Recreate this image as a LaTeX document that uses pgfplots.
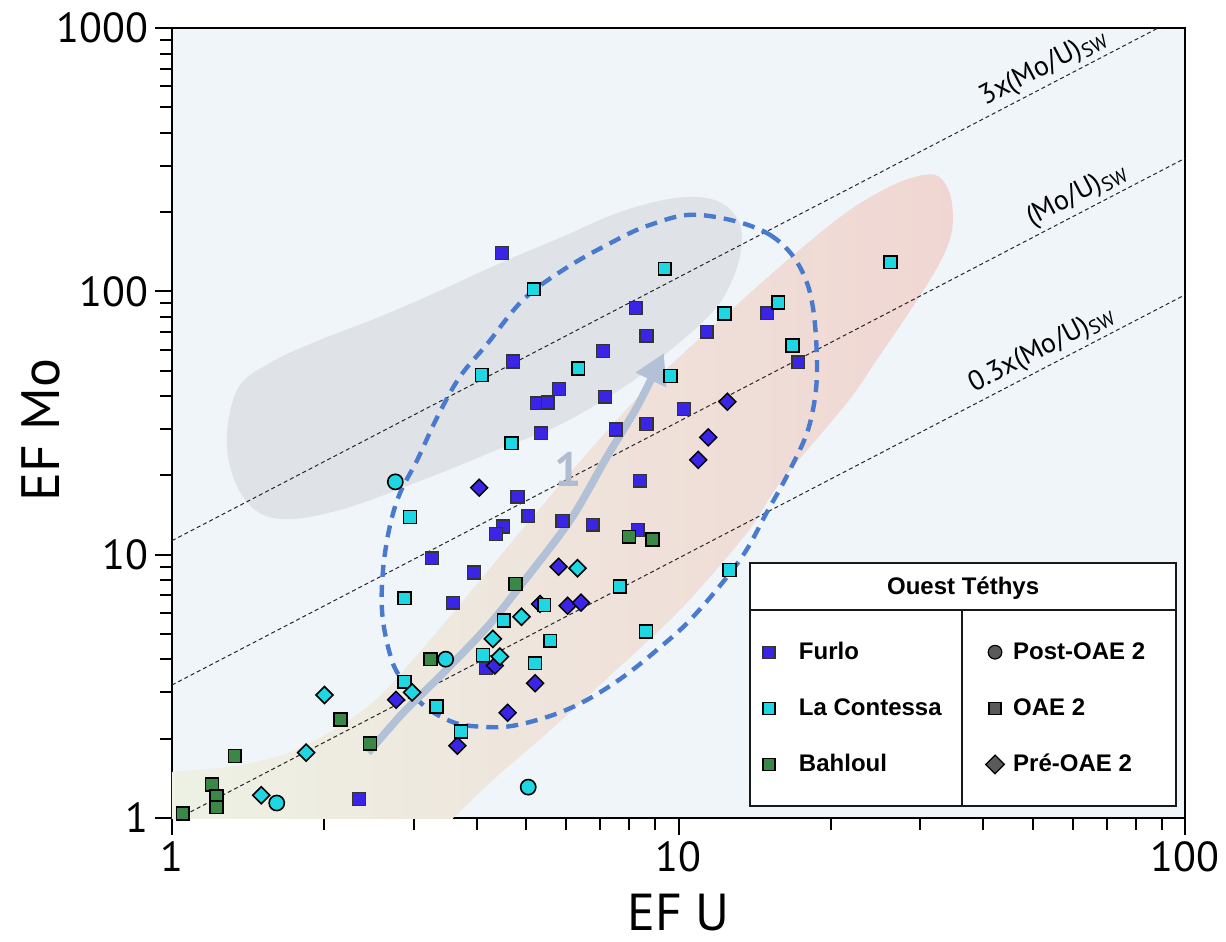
\documentclass[border=0pt]{standalone}
\usepackage{fontspec}
\setmainfont{PT Sans}
\newfontfamily\legfont{Liberation Sans}
\usepackage{pgfplots}
\pgfplotsset{compat=1.18}
\usetikzlibrary{arrows.meta}

\definecolor{bgcol}{RGB}{240,245,250}
\definecolor{graycol}{RGB}{223,227,232}
\definecolor{bandL}{RGB}{237,244,230}
\definecolor{bandM}{RGB}{240,234,224}
\definecolor{bandR}{RGB}{240,214,210}
\definecolor{ellc}{RGB}{74,122,206}
\definecolor{cfurlo}{RGB}{58,36,230}
\definecolor{clac}{RGB}{29,216,226}
\definecolor{cbah}{RGB}{58,136,70}
\definecolor{arrowc}{RGB}{178,193,214}
\definecolor{onec}{RGB}{176,188,207}
\definecolor{leggray}{RGB}{90,90,90}

\begin{document}
\begin{tikzpicture}
\useasboundingbox (-86pt,-62pt) rectangle (527pt,409pt);
\begin{axis}[
  at={(0,0)}, anchor=south west,
  width=506.5pt, height=395pt, scale only axis,
  xmode=log, ymode=log,
  xmin=1, xmax=100, ymin=1, ymax=1000,
  log ticks with fixed point,
  xtick={1,10,100}, ytick={1,10,100,1000},
  tick pos=left,
  tick align=outside,
  major tick length=8.5pt, minor tick length=6pt,
  every tick/.style={black, line width=1pt},
  axis line style={line width=1pt},
  axis background/.style={fill=bgcol},
  /pgf/number format/assume math mode=true,
  /pgf/number format/1000 sep={},
  ticklabel style={font=\fontsize{21}{24}\selectfont},
  every axis x label/.style={at={(rel axis cs:0.5,-0.1425)}, anchor=base, inner sep=0pt, font=\fontsize{26}{30}\selectfont},
  every axis y label/.style={at={(rel axis cs:-0.1115,0.491)}, rotate=90, anchor=base, inner sep=0pt, font=\fontsize{27}{30}\selectfont},
  xlabel={EF U}, ylabel={EF Mo},
  legend columns=2,
  legend cell align=left,
  legend image code/.code={\draw[#1] plot coordinates {(0pt,0pt)};},
  legend style={at={(rel axis cs:0.5834,0.2253)}, anchor=north west, draw=none, fill=none,
    inner sep=0pt, outer sep=0pt, row sep=16pt,
    font=\legfont\bfseries\fontsize{12}{14}\selectfont,
    nodes={inner sep=1pt},
    /tikz/every odd column/.append style={column sep=3.4pt},
    /tikz/every even column/.append style={column sep=21pt}},
]

% gradient band
\addplot[draw=none, left color=bandL, middle color=bandM, right color=bandR, smooth cycle, tension=0.55, forget plot] coordinates {
 (1,1.495) (1.362,1.589) (1.789,1.845) (2.46,2.69) (3.23,4.74) (4.06,8.01) (5.09,13.5) (6.69,25.0)
 (8.78,44.1) (12.08,77.9) (16.6,133.9) (21.8,203.8) (27.4,260.3) (32.1,276.7) (34.4,232.3) (34.7,171.1)
 (32.8,128.2) (29.0,87.3) (25.0,57.3) (21.5,37.7) (15.86,18.7) (13.65,12.09) (10.07,6.17) (7.42,3.55)
 (5.50,2.10) (4.30,1.394) (3.59,1.0) (3.4,0.92) (0.9,0.9) (0.9,1.45)};

% gray blob
\addplot[draw=none, fill=graycol, smooth cycle, tension=0.6, forget plot] coordinates {
 (4.38,25.0) (3.23,19.7) (2.15,14.8) (1.61,13.7) (1.381,16.6) (1.284,25.6) (1.344,42.2) (1.562,53.5)
 (1.960,65.4) (2.54,79.3) (3.34,99.5) (4.50,129.3) (5.83,159.5) (7.66,200) (9.84,226) (11.8,222)
 (13.11,186.7) (13.29,143.6) (12.64,105.8) (11.54,81.4) (9.49,58.3) (8.02,44.9) (5.92,31.6)};

% reference lines
\addplot[black!85, line width=0.5pt, dash pattern=on 2pt off 1.5pt, forget plot] coordinates {(1,11.3) (100,1130)};
\addplot[black!85, line width=0.5pt, dash pattern=on 2pt off 1.5pt, forget plot] coordinates {(1,3.2) (100,320)};
\addplot[black!85, line width=0.5pt, dash pattern=on 2pt off 1.5pt, forget plot] coordinates {(1,0.97) (100,97)};

\node[rotate=27.5, anchor=south, inner sep=2pt, font=\fontsize{14}{16}\selectfont] at (axis cs:54.6,617) {3x(Mo/U)\textsubscript{SW}};
\node[rotate=27.5, anchor=south, inner sep=2pt, font=\fontsize{14}{16}\selectfont] at (axis cs:63.5,203) {(Mo/U)\textsubscript{SW}};
\node[rotate=27.5, anchor=south, inner sep=2pt, font=\fontsize{14}{16}\selectfont] at (axis cs:54.1,52.5) {0.3x(Mo/U)\textsubscript{SW}};

% dashed ellipse
\addplot[ellc, line width=2.2pt, dash pattern=on 6pt off 4pt, smooth cycle, tension=0.6, forget plot] coordinates {
 (11.03,195) (15.16,163.8) (17.94,107.6) (18.77,53.5) (18.18,31.6) (16.6,21.0) (14.95,14.5) (13.22,9.55)
 (10.68,5.80) (9.07,4.35) (7.77,3.43) (6.60,2.81) (5.65,2.46) (4.71,2.24) (4.11,2.22) (3.59,2.31)
 (3.13,2.69) (2.82,3.43) (2.69,4.23) (2.60,6.00) (2.61,8.75) (2.69,12.74) (2.82,17.15) (3.05,22.9)
 (3.34,33.3) (3.70,47.3) (4.19,63.1) (4.93,92.7) (5.92,120.6) (7.22,150) (8.78,178.7)};

% arrow
\addplot[arrowc, line width=3.8pt, smooth, tension=0.5, -{Triangle[width=16pt,length=15pt]}, forget plot] coordinates {
 (2.44,1.77) (2.86,2.51) (3.43,3.55) (4.19,5.31) (4.80,7.34) (6.11,13.5) (7.22,23.5) (8.28,36.4) (9.36,58.3)};
\node[text=onec, font=\bfseries\fontsize{24}{26}\selectfont] at (axis cs:6.05,21.0) {1};

% Furlo OAE 2
\addplot[only marks, mark=square*, mark size=3.2pt, mark options={fill=cfurlo, draw=black!80, line width=0.7pt}, forget plot] coordinates {
 (4.48,139.6) (8.23,86.3) (14.97,82.5) (11.37,70.3) (8.65,67.9) (7.10,59.4) (4.71,54.1) (17.24,53.8)
 (5.81,42.5) (5.25,37.6) (5.52,37.8) (7.16,39.8) (10.25,35.8) (5.35,28.9) (7.52,29.9) (8.65,31.4)
 (8.40,19.1) (4.81,16.6) (5.05,14.0) (4.50,12.8) (4.36,11.98) (5.90,13.4) (6.77,13.0) (8.31,12.4)
 (3.26,9.69) (3.95,8.55) (3.59,6.57) (4.17,3.70) (2.34,1.18)};
% Furlo Pre-OAE 2
\addplot[only marks, mark=square*, mark size=3.0pt, mark options={rotate=45, fill=cfurlo, draw=black, line width=0.7pt}, forget plot] coordinates {
 (12.49,38.1) (11.45,27.9) (10.94,22.9) (4.04,17.97) (5.80,9.0) (5.33,6.5) (6.04,6.40) (6.42,6.57)
 (4.34,3.79) (5.21,3.25) (4.60,2.51) (2.77,2.81) (3.66,1.88)};
% La Contessa OAE 2
\addplot[only marks, mark=square*, mark size=3.2pt, mark options={fill=clac, draw=black, line width=0.8pt}, forget plot] coordinates {
 (9.40,121.7) (5.18,101.9) (12.32,82.5) (15.74,90.6) (16.78,62.2) (6.34,51.0) (9.65,47.7) (4.09,48.1)
 (4.68,26.5) (2.95,13.9) (2.88,6.83) (7.66,7.56) (12.6,8.75) (5.43,6.44) (4.52,5.62) (5.58,4.71)
 (8.63,5.10) (4.11,4.16) (5.21,3.87) (2.88,3.29) (3.33,2.65) (3.72,2.13) (26.2,129)};
% La Contessa Pre-OAE 2
\addplot[only marks, mark=square*, mark size=3.0pt, mark options={rotate=45, fill=clac, draw=black, line width=0.8pt}, forget plot] coordinates {
 (6.32,8.88) (4.90,5.81) (4.30,4.79) (4.44,4.10) (2.98,3.0) (2.00,2.93) (1.84,1.77) (1.50,1.22)};
% Bahloul OAE 2
\addplot[only marks, mark=square*, mark size=3.2pt, mark options={fill=cbah, draw=black, line width=0.8pt}, forget plot] coordinates {
 (7.99,11.7) (8.88,11.4) (4.77,7.74) (3.24,4.01) (2.15,2.37) (2.46,1.92) (1.33,1.72) (1.20,1.34)
 (1.225,1.21) (1.225,1.10) (1.05,1.04)};
% La Contessa Post-OAE 2
\addplot[only marks, mark=*, mark size=3.8pt, mark options={fill=clac, draw=black, line width=0.8pt}, forget plot] coordinates {
 (2.76,18.9) (3.47,4.01) (1.61,1.14) (5.05,1.31)};

% legend frame
\draw[line width=1.2pt, black!90, fill=white] (rel axis cs:0.5706,0.0152) rectangle (rel axis cs:0.991,0.3228);
\draw[line width=1.2pt, black!90] (rel axis cs:0.5706,0.2633) -- (rel axis cs:0.991,0.2633);
\draw[line width=0.9pt, black!90] (rel axis cs:0.780,0.0152) -- (rel axis cs:0.780,0.2633);
\node[font=\legfont\bfseries\fontsize{12}{14}\selectfont] at (rel axis cs:0.781,0.291) {Ouest Téthys};

\addlegendimage{only marks, mark=square*, mark size=3pt, mark options={fill=cfurlo, draw=black!80, line width=0.6pt}}
\addlegendentry{\hspace{7.6pt}Furlo}
\addlegendimage{only marks, mark=*, mark size=3.4pt, mark options={fill=leggray, draw=black, line width=0.6pt}}
\addlegendentry{Post-OAE 2}
\addlegendimage{only marks, mark=square*, mark size=3pt, mark options={fill=clac, draw=black, line width=0.6pt}}
\addlegendentry{\hspace{7.6pt}La Contessa}
\addlegendimage{only marks, mark=square*, mark size=3pt, mark options={fill=leggray, draw=black, line width=0.6pt}}
\addlegendentry{OAE 2}
\addlegendimage{only marks, mark=square*, mark size=3pt, mark options={fill=cbah, draw=black, line width=0.6pt}}
\addlegendentry{\hspace{7.6pt}Bahloul}
\addlegendimage{only marks, mark=square*, mark size=3.3pt, mark options={rotate=45, fill=leggray, draw=black, line width=0.6pt}}
\addlegendentry{Pré-OAE 2}
\end{axis}
\end{tikzpicture}
\end{document}
